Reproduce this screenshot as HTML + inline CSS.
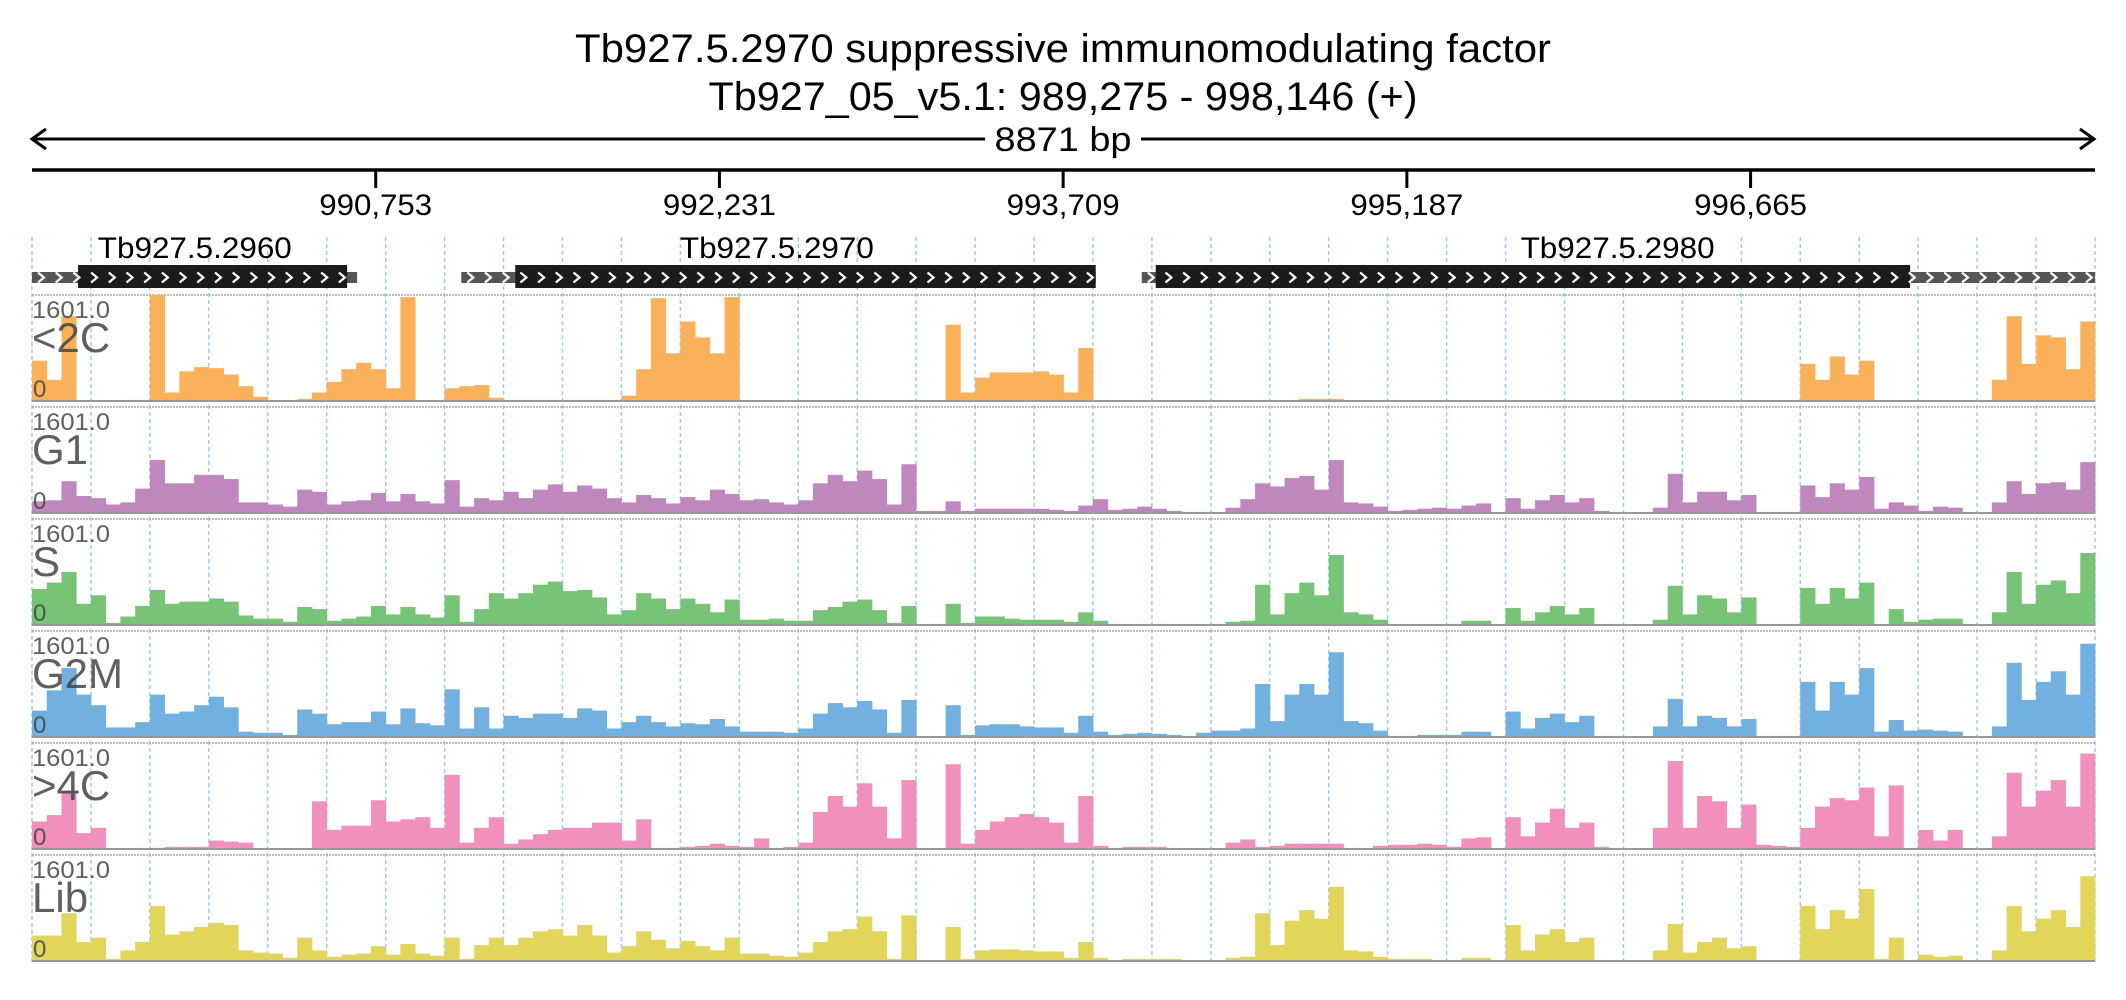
<!DOCTYPE html>
<html><head><meta charset="utf-8"><style>
html,body{margin:0;padding:0;background:#fff;}
svg{display:block;font-family:"Liberation Sans",sans-serif;}
</style></head><body>
<svg id="chart" width="2126" height="1000" viewBox="0 0 2126 1000" xmlns="http://www.w3.org/2000/svg">
<text x="1063" y="62" font-size="40" text-anchor="middle" textLength="976" lengthAdjust="spacingAndGlyphs" fill="#000">Tb927.5.2970  suppressive immunomodulating factor</text>
<text x="1063" y="110" font-size="40" text-anchor="middle" textLength="709" lengthAdjust="spacingAndGlyphs" fill="#000">Tb927_05_v5.1: 989,275 - 998,146 (+)</text>
<g stroke="#000" stroke-width="3" fill="none">
<line x1="32" y1="139" x2="985" y2="139"/><line x1="1141" y1="139" x2="2094" y2="139"/>
<polyline points="46,129 32,139 46,149"/><polyline points="2080,129 2094,139 2080,149"/>
</g>
<text x="1063" y="151" font-size="34" text-anchor="middle" textLength="137" lengthAdjust="spacingAndGlyphs">8871 bp</text>
<line x1="32" y1="170" x2="2095" y2="170" stroke="#000" stroke-width="3.5"/>
<g id="ticks"></g>
<g id="grid"></g>
<g id="genes"></g>
<g id="tracks"></g>
</svg>
<script>
const NS="http://www.w3.org/2000/svg";
const START=989275, END=998146;
const tickPositions=[990753,992231,993709,995187,996665];
const trackNames=["<2C","G1","S","G2M",">4C","Lib"];
const trackColors=["#FBB15A","#BF87BE","#77C477","#72B0DF","#F290BD","#E1D55A"];
const maxLabel="1601.0";
const genesName=["Tb927.5.2960","Tb927.5.2970","Tb927.5.2980"];
// gene coordinates in bp
const genesUtrStart=[989275,991121,994047];
const genesCdsStart=[989473,991353,994107];
const genesCdsEnd=[990630,993849,997351];
const genesUtrEnd=[990673,993849,998146];
const genesLabelPos=[989975,992478,996093];
// coverage, percent of max, 140 bins across the region
const covLt2C=[38,20,80,0,0,0,1,1,100,8,28,32,31,25,14,4,0,0,2,8,18,30,36,30,12,98,0,0,12,14,15,3,1,1,1,1,1,1,1,1,5,30,97,45,75,60,45,98,0,0,0,0,0,0,0,0,0,0,0,0,0,0,72,8,22,27,27,27,28,25,
8,50,0,0,0,0,0,0,0,0,0,0,0,0,0,0,2,2,2,0,0,0,0,0,0,0,0,0,0,0,0,0,0,0,0,0,0,0,0,0,0,0,0,0,0,0,0,0,0,0,35,20,42,25,38,0,0,0,0,0,0,0,1,20,80,35,62,60,30,75];
const covG1=[11,12,30,16,14,8,10,23,50,28,28,36,36,32,10,10,8,6,22,20,8,11,12,19,11,18,11,9,31,6,14,12,20,14,22,27,20,26,23,14,10,17,14,9,15,12,22,18,12,13,10,8,12,28,36,30,40,32,8,46,2,2,11,2,4,4,4,4,4,3,
2,7,13,3,4,6,4,2,1,1,1,5,13,28,25,33,35,22,50,10,9,6,2,3,4,5,4,7,9,0,14,4,12,17,10,14,2,1,0,0,5,37,10,20,20,12,17,1,1,1,26,15,28,22,34,4,10,7,2,6,5,0,0,10,30,18,28,29,22,48];
const covS=[34,40,50,20,28,2,8,18,33,20,22,22,25,22,9,6,6,3,17,15,4,6,8,18,10,17,10,7,28,3,15,30,25,30,38,41,32,33,26,10,14,30,25,15,25,20,12,24,5,5,6,4,4,14,17,22,24,14,2,18,1,1,20,2,8,8,6,5,5,5,
3,12,4,1,1,1,1,1,1,1,1,3,4,38,10,30,40,28,66,12,10,5,1,1,1,1,1,4,4,0,16,4,12,18,10,16,1,1,0,0,5,37,10,28,25,12,26,1,1,1,35,20,35,25,40,1,15,3,5,6,6,0,0,12,50,20,38,42,30,68];
const covG2M=[25,44,65,40,30,9,9,14,40,22,24,30,38,28,5,4,4,2,26,22,12,14,14,24,12,27,13,11,45,8,28,8,20,18,22,22,18,27,25,8,14,20,14,10,13,12,17,10,5,5,5,4,8,22,32,28,34,26,4,35,0,0,30,2,11,12,12,10,9,9,
4,20,5,2,3,4,3,2,1,4,6,6,8,50,15,40,50,40,80,15,13,6,1,1,2,2,2,5,5,0,24,8,18,22,14,20,1,1,0,0,10,36,10,20,18,10,17,1,1,1,52,25,52,40,65,5,16,6,7,6,5,0,0,10,70,35,52,62,40,88];
const covGt4C=[26,32,55,15,20,0,0,1,1,2,2,2,8,7,6,0,0,0,0,45,18,22,22,46,26,28,30,20,70,6,20,30,5,9,14,18,20,20,25,25,8,28,1,1,2,3,5,3,2,10,1,2,6,35,50,40,62,40,10,65,0,0,80,5,18,26,30,33,30,25,
6,50,3,1,2,2,2,1,0,0,0,6,9,2,3,5,5,5,5,1,0,3,4,4,5,4,2,10,11,0,30,12,25,38,20,25,2,1,0,0,20,83,20,50,45,20,42,4,3,2,20,40,48,46,58,12,60,1,18,8,18,0,0,12,72,40,55,65,40,90];
const covLib=[24,24,45,18,22,2,10,18,52,25,28,32,36,34,10,8,7,3,22,10,4,6,7,14,6,16,7,5,22,2,15,22,15,22,28,30,24,34,24,8,14,28,20,12,19,14,10,22,7,7,5,4,8,18,28,30,42,28,2,43,0,0,32,2,10,11,11,10,9,9,
3,18,3,1,2,2,2,2,0,0,0,3,4,45,15,38,48,40,70,10,9,4,2,2,2,1,0,3,3,0,34,10,25,30,18,22,1,0,0,0,10,35,8,18,22,12,14,1,0,0,52,30,48,40,68,2,22,1,6,4,5,0,0,10,52,28,40,48,32,80];
const trackData=[covLt2C,covG1,covS,covG2M,covGt4C,covLib];

const X0=32, X1=2095;
function xScale(bp){return X0+(bp-START)/(END-START)*(X1-X0);}
const TOP0=295, PITCH=112, H=106;
function yScale(track,v){return TOP0+track*PITCH+H - v/100*H;}
function mk(tag,attrs,parent){const e=document.createElementNS(NS,tag);for(const k in attrs)e.setAttribute(k,attrs[k]);parent.appendChild(e);return e;}

const gT=document.getElementById('ticks');
tickPositions.forEach(p=>{
  const x=xScale(p);
  const l=mk('line',{x1:x,y1:170,x2:x,y2:188,stroke:'#000','stroke-width':3},gT);
  
  
  const t=mk('text',{x:x,y:215,'font-size':30,'text-anchor':'middle',textLength:113,lengthAdjust:'spacingAndGlyphs'},gT);
  
  
  t.textContent=p.toLocaleString('en-US');
});
const gG=document.getElementById('grid');
for(let i=0;i<=35;i++){
  const x=X0+i*(X1-X0)/35;
  const l=mk('line',{x1:x,y1:237,x2:x,y2:962,stroke:'#9fcbef','stroke-width':1.5,'stroke-dasharray':'4,3'},gG);
  
  
}
const gGe=document.getElementById('genes');
function chevrons(x1,x2,y,parent){
  for(let x=x1+6;x<x2-8;x+=17.7){
    const p=mk('polyline',{points:`${x},${y-5} ${x+6},${y} ${x},${y+5}`,stroke:'#fff','stroke-width':2.2,fill:'none'},parent);
    
    
  }
}
genesName.forEach((n,i)=>{
  const g=mk('g',{},gGe);
  
  
  const u1=xScale(genesUtrStart[i]),u2=xScale(genesUtrEnd[i]),c1=xScale(genesCdsStart[i]),c2=xScale(genesCdsEnd[i]);
  const r1=mk('rect',{x:u1,y:272,width:u2-u1,height:11,fill:'#555'},g);
  
  
  const r2=mk('rect',{x:c1,y:265,width:c2-c1,height:23,fill:'#1b1b1b'},g);
  
  
  chevrons(u1,u2,277.5,g);
  const t=mk('text',{x:xScale(genesLabelPos[i]),y:258,'font-size':30,'text-anchor':'middle',textLength:194,lengthAdjust:'spacingAndGlyphs'},g);
  
  
  t.textContent=n;
});
const gTr=document.getElementById('tracks');
const NB=140, bw=(X1-X0)/NB;
trackData.forEach((arr,ti)=>{
  const g=mk('g',{},gTr);
  
  
  const top=TOP0+ti*PITCH, base=top+H;
  const tl=mk('line',{x1:X0,y1:top,x2:X1,y2:top,stroke:'#aaa','stroke-width':1.5,'stroke-dasharray':'2,1'},g);
  
  
  arr.forEach((v,i)=>{
    const y=yScale(ti,v);
    const r=mk('rect',{x:X0+i*bw,y:y,width:bw+0.4,height:base-y,fill:trackColors[ti]},g);
    
    
  });
  const bl=mk('line',{x1:X0,y1:base,x2:X1,y2:base,stroke:'#999','stroke-width':2},g);
  
  
  const m=mk('text',{x:32,y:top+23,'font-size':24,fill:'#444','fill-opacity':0.85,textLength:78,lengthAdjust:'spacingAndGlyphs'},g);
  
  
  m.textContent=maxLabel;
  const nm=mk('text',{x:32,y:top+57,'font-size':42,fill:'#444','fill-opacity':0.85},g);
  
  
  nm.textContent=trackNames[ti];
  const z=mk('text',{x:33,y:base-4,'font-size':24,fill:'#444','fill-opacity':0.85},g);
  
  
  z.textContent='0';
});
</script>
</body></html>
